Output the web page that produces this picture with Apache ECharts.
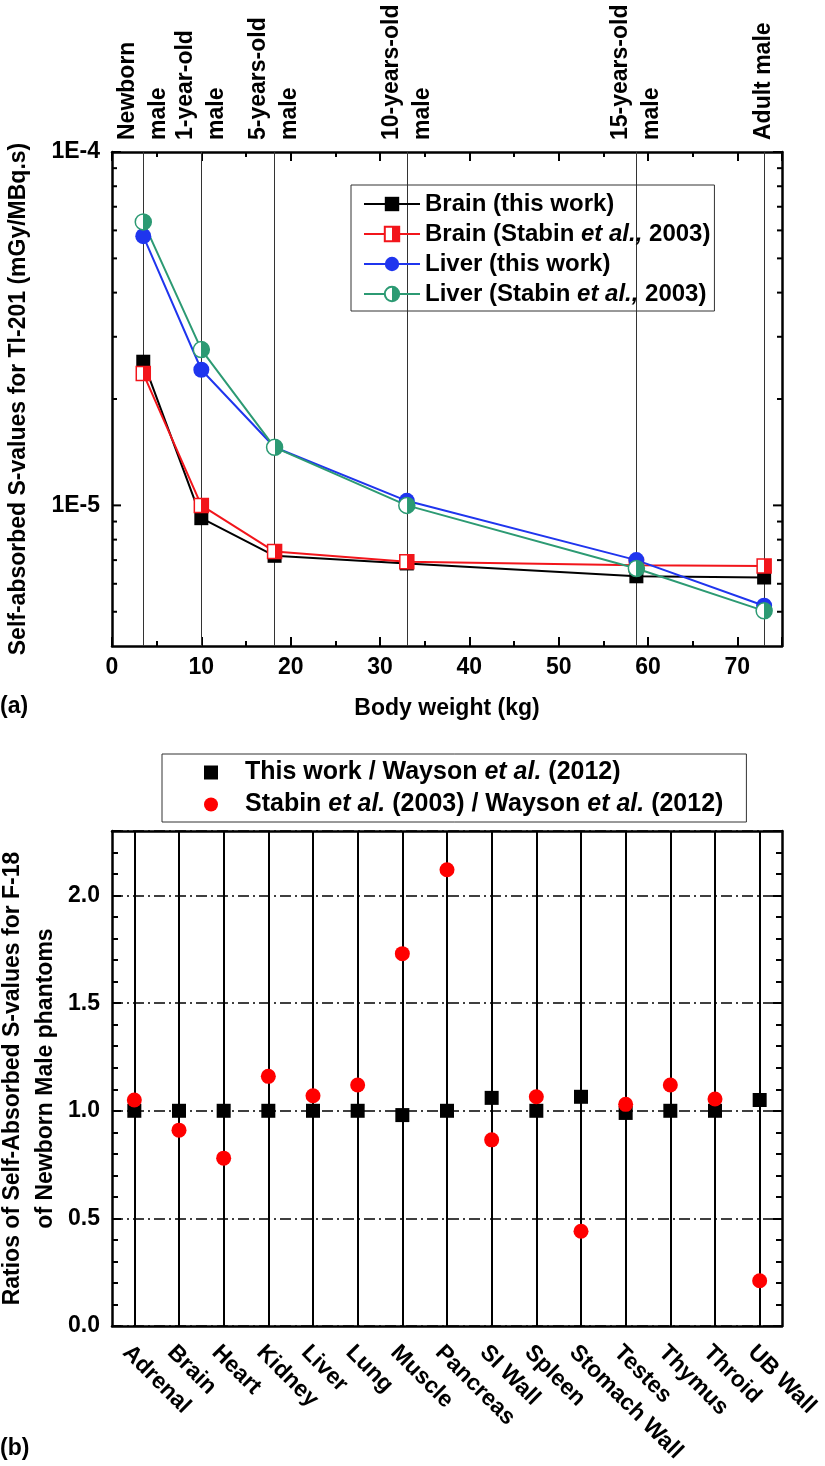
<!DOCTYPE html>
<html>
<head>
<meta charset="utf-8">
<script src="https://cdn.jsdelivr.net/npm/echarts@6/dist/echarts.min.js"></script>
<style>
  html, body { margin: 0; padding: 0; background: #fff; }
  #main { width: 825px; height: 1466px; }
</style>
</head>
<body>
<div id="main"></div>
<script>
// ---- panel (a): self-absorbed S-values for Tl-201 vs body weight ----
const phantoms = ['Newborn\nmale', '1-year-old\nmale', '5-years-old\nmale', '10-years-old\nmale', '15-years-old\nmale', 'Adult male'];
const weights = [3.5, 10, 18.2, 33, 58.7, 73];
const brainThisWork = [2.55e-5, 9.2e-6, 7.2e-6, 6.85e-6, 6.3e-6, 6.25e-6];
const brainStabin = [2.36e-5, 1.0e-5, 7.4e-6, 6.93e-6, 6.77e-6, 6.74e-6];
const liverThisWork = [5.78e-5, 2.42e-5, 1.46e-5, 1.03e-5, 7.0e-6, 5.2e-6];
const liverStabin = [6.34e-5, 2.76e-5, 1.46e-5, 1.0e-5, 6.63e-6, 5.03e-6];
// ticks of the log axis: decades and 2..9 in between
const logTicks = [5e-6, 6e-6, 7e-6, 8e-6, 9e-6, 1e-5, 2e-5, 3e-5, 4e-5, 5e-5, 6e-5, 7e-5, 8e-5, 9e-5, 1e-4];

// ---- panel (b): ratios for F-18, newborn male ----
const organs = ['Adrenal', 'Brain', 'Heart', 'Kidney', 'Liver', 'Lung', 'Muscle', 'Pancreas', 'SI Wall', 'Spleen', 'Stomach Wall', 'Testes', 'Thymus', 'Throid', 'UB Wall'];
const ratioThisWork = [1.0, 1.0, 1.0, 1.0, 1.0, 1.0, 0.98, 1.0, 1.06, 1.0, 1.065, 0.99, 1.0, 1.0, 1.05];
const ratioStabin = [1.05, 0.91, 0.78, 1.16, 1.07, 1.12, 1.73, 2.12, 0.865, 1.065, 0.44, 1.03, 1.12, 1.055, 0.21];

const FONT = "'Liberation Sans', Arial, sans-serif";
const RED = '#f2151b';
const BLUE = '#1f35ee';
const GREEN = '#2c9a73';

function halfFill(color) {
    return {
        type: 'linear', x: 0, y: 0, x2: 1, y2: 0,
        colorStops: [
            { offset: 0, color: '#fff' }, { offset: 0.5, color: '#fff' },
            { offset: 0.5, color: color }, { offset: 1, color: color }
        ]
    };
}

// italic "et al." inside legend names
function legendText(name) {
    return name.split(/(et al\.,?)/).filter(s => s.length).map(s =>
        /^et al/.test(s) ? '{i|' + s + '}' : '{t|' + s + '}').join('');
}

function richText(size) {
    return {
        t: { fontFamily: FONT, fontWeight: 'bold', fontSize: size, lineHeight: 24, color: '#000' },
        i: { fontFamily: FONT, fontWeight: 'bold', fontStyle: 'italic', fontSize: size, lineHeight: 24, color: '#000' },
        sp: { width: 22 }
    };
}

const axisFont = { fontFamily: FONT, fontWeight: 'bold', fontSize: 23, color: '#000' };
const blackLine = { show: true, onZero: false, lineStyle: { color: '#000', width: 2.5 } };
const insideTick = { show: true, inside: true, length: 9, lineStyle: { color: '#000', width: 2 } };

function pairs(values) {
    return weights.map((w, i) => [w, values[i]]);
}

function lineSeries(name, values, symbol, size, lineColor, fill, border) {
    return {
        name: name, type: 'line', xAxisIndex: 0, yAxisIndex: 0,
        data: pairs(values), symbol: symbol, symbolSize: size, z: 3,
        lineStyle: { color: lineColor, width: 2 },
        itemStyle: { color: fill, borderColor: border, borderWidth: border ? 1.5 : 0 }
    };
}

const chart = echarts.init(document.getElementById('main'));

const option = {
    animation: false,
    backgroundColor: '#fff',
    grid: [
        { left: 112, top: 152, width: 670, height: 494, outerBoundsMode: 'none', containLabel: false },
        { left: 112, top: 831, width: 670, height: 495, outerBoundsMode: 'none', containLabel: false }
    ],
    legend: [
        {
            data: ['Brain (this work)', 'Brain (Stabin et al., 2003)', 'Liver (this work)', 'Liver (Stabin et al., 2003)'],
            orient: 'vertical', left: 351, top: 185,
            itemWidth: 56, itemHeight: 18, itemGap: 6,
            padding: [7, 4, 5, 12],
            borderColor: '#333', borderWidth: 1,
            formatter: legendText,
            textStyle: { rich: richText(24) }
        },
        {
            data: ['This work / Wayson et al. (2012)', 'Stabin et al. (2003) / Wayson et al. (2012)'],
            orient: 'vertical', left: 162, top: 754,
            itemWidth: 14, itemHeight: 14, itemGap: 7,
            padding: [6, 23, 5, 42],
            borderColor: '#333', borderWidth: 1,
            formatter: name => '{sp| }' + legendText(name),
            textStyle: { rich: richText(25) }
        }
    ],
    xAxis: [
        {
            type: 'value', gridIndex: 0, min: 0, max: 75, interval: 10,
            name: 'Body weight (kg)', nameLocation: 'middle', nameGap: 51,
            nameTextStyle: axisFont,
            axisLine: blackLine,
            axisTick: insideTick,
            minorTick: { show: true, splitNumber: 2, length: 5, lineStyle: { color: '#000', width: 2 } },
            axisLabel: Object.assign({ margin: 10, formatter: v => (v % 10 === 0 ? String(v) : '') }, axisFont),
            splitLine: { show: false }
        },
        {
            type: 'value', gridIndex: 0, position: 'top', min: 0, max: 75, interval: 10,
            axisLine: blackLine,
            axisTick: insideTick,
            minorTick: { show: true, splitNumber: 2, length: 5, lineStyle: { color: '#000', width: 2 } },
            axisLabel: { show: false },
            splitLine: { show: false }
        },
        {
            type: 'category', gridIndex: 1, data: organs, boundaryGap: true,
            axisLine: blackLine,
            axisTick: { show: false },
            axisLabel: Object.assign({ rotate: -45, margin: 15, interval: 0, align: 'left', verticalAlign: 'top' }, axisFont),
            splitLine: { show: false }
        },
        {
            type: 'category', gridIndex: 1, data: organs, position: 'top', boundaryGap: true,
            axisLine: blackLine,
            axisTick: { show: false },
            axisLabel: { show: false },
            splitLine: { show: false }
        }
    ],
    yAxis: [
        {
            type: 'log', gridIndex: 0, min: 4e-6, max: 1e-4, logBase: 10,
            name: 'Self-absorbed S-values for Tl-201 (mGy/MBq.s)',
            nameLocation: 'middle', nameGap: 82, nameTextStyle: axisFont,
            axisLine: blackLine,
            axisTick: { show: false },
            axisLabel: Object.assign({
                margin: 12,
                formatter: v => {
                    const e = Math.log10(v);
                    return Math.abs(e - Math.round(e)) < 1e-6 ? '1E' + Math.round(e) : '';
                }
            }, axisFont),
            splitLine: { show: false }
        },
        {
            type: 'log', gridIndex: 0, min: 4e-6, max: 1e-4, logBase: 10, position: 'right',
            axisLine: blackLine,
            axisTick: { show: false },
            axisLabel: { show: false },
            splitLine: { show: false }
        },
        {
            type: 'value', gridIndex: 1, min: 0, max: 2.3, interval: 0.5,
            name: 'Ratios of Self-Absorbed S-values for F-18\nof Newborn Male phantoms',
            nameLocation: 'middle', nameGap: 50, nameMoveOverlap: false,
            nameTextStyle: Object.assign({ lineHeight: 33 }, axisFont),
            axisLine: blackLine,
            axisTick: insideTick,
            minorTick: { show: true, splitNumber: 5, length: 6, lineStyle: { color: '#000', width: 2 } },
            axisLabel: Object.assign({
                margin: 12,
                formatter: v => (Math.abs(v * 2 - Math.round(v * 2)) < 1e-6 ? v.toFixed(1) : '')
            }, axisFont),
            splitLine: { show: true, lineStyle: { color: '#000', width: 1.5, type: [11, 4, 2, 4] } }
        },
        {
            type: 'value', gridIndex: 1, min: 0, max: 2.3, interval: 0.5, position: 'right',
            axisLine: blackLine,
            axisTick: insideTick,
            minorTick: { show: true, splitNumber: 5, length: 6, lineStyle: { color: '#000', width: 2 } },
            axisLabel: { show: false },
            splitLine: { show: false }
        }
    ],
    graphic: [
        { type: 'text', left: 0, top: 695, style: { text: '(a)', font: 'bold 23px ' + FONT, fill: '#000' } },
        { type: 'text', left: 0, top: 1437, style: { text: '(b)', font: 'bold 23px ' + FONT, fill: '#000' } }
    ],
    series: [
        // phantom names above the plot and their vertical lines
        {
            name: 'phantoms', type: 'scatter', xAxisIndex: 0, yAxisIndex: 0,
            data: weights.map(w => [w, 1e-4]), symbolSize: 0, silent: true, clip: false, z: 1,
            itemStyle: { opacity: 1 },
            label: {
                show: true, position: [0, -12], rotate: 90, align: 'left', verticalAlign: 'middle',
                formatter: p => phantoms[p.dataIndex],
                fontFamily: FONT, fontWeight: 'bold', fontSize: 23, lineHeight: 31, color: '#000'
            },
            markLine: {
                silent: true, symbol: ['none', 'none'], z: 1,
                label: { show: false },
                lineStyle: { color: '#333', width: 1, type: 'solid' },
                data: weights.map(w => ({ xAxis: w }))
            }
        },
        // ticks of the log axis, on both sides
        {
            name: 'logticks', type: 'custom', xAxisIndex: 0, yAxisIndex: 0, silent: true, z: 4,
            data: logTicks.map(v => [0, v]),
            renderItem: function (params, api) {
                const v = api.value(1);
                const e = Math.log10(v);
                const len = Math.abs(e - Math.round(e)) < 1e-6 ? 9 : 5;
                const p = api.coord([0, v]);
                const cs = params.coordSys;
                const st = { stroke: '#000', lineWidth: 2 };
                return {
                    type: 'group', children: [
                        { type: 'line', shape: { x1: cs.x, y1: p[1], x2: cs.x + len, y2: p[1] }, style: st },
                        { type: 'line', shape: { x1: cs.x + cs.width, y1: p[1], x2: cs.x + cs.width - len, y2: p[1] }, style: st }
                    ]
                };
            }
        },
        lineSeries('Brain (this work)', brainThisWork, 'rect', 14, '#000', '#000', null),
        lineSeries('Brain (Stabin et al., 2003)', brainStabin, 'rect', 14, RED, halfFill(RED), RED),
        lineSeries('Liver (this work)', liverThisWork, 'circle', 16, BLUE, BLUE, null),
        lineSeries('Liver (Stabin et al., 2003)', liverStabin, 'circle', 16, GREEN, halfFill(GREEN), GREEN),

        {
            name: 'This work / Wayson et al. (2012)', type: 'scatter', xAxisIndex: 2, yAxisIndex: 2,
            data: ratioThisWork, symbol: 'rect', symbolSize: 14, z: 3,
            itemStyle: { color: '#000', opacity: 1 },
            markLine: {
                silent: true, symbol: ['none', 'none'], z: 1,
                label: { show: false },
                lineStyle: { color: '#000', width: 2, type: 'solid' },
                data: organs.map(o => ({ xAxis: o }))
            }
        },
        {
            name: 'Stabin et al. (2003) / Wayson et al. (2012)', type: 'scatter', xAxisIndex: 2, yAxisIndex: 2,
            data: ratioStabin, symbol: 'circle', symbolSize: 15, z: 4,
            itemStyle: { color: '#ff0000', opacity: 1 }
        }
    ]
};

chart.setOption(option);
</script>
</body>
</html>
